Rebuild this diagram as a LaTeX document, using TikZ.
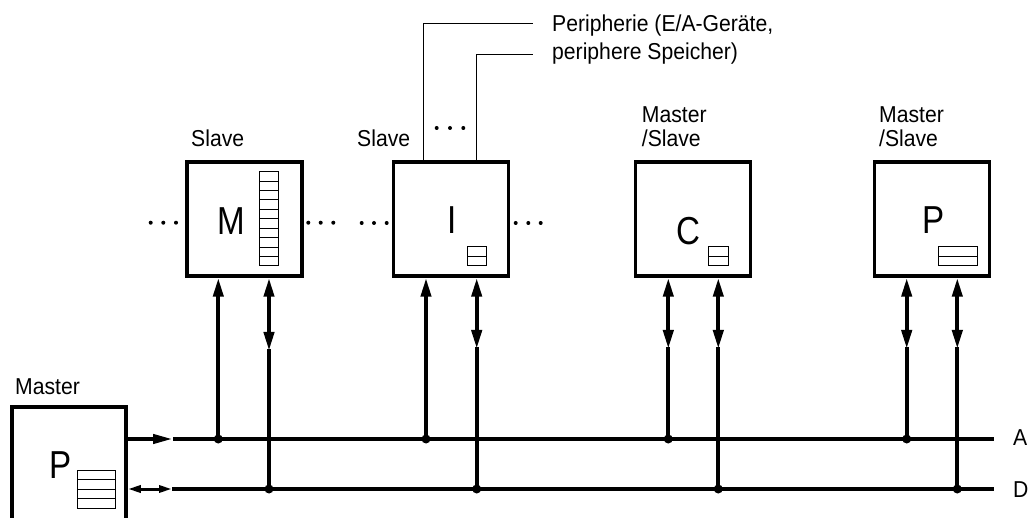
\documentclass[tikz,border=0pt]{standalone}
\usepackage{fontspec}
\setmainfont{Liberation Sans}[FakeStretch=0.92]
\newfontfamily\bigf{Liberation Sans}[FakeStretch=0.85]
\usetikzlibrary{arrows.meta}
\begin{document}
\begin{tikzpicture}[x=1pt,y=-1pt,
  unit/.style={draw,line width=3.5pt,minimum width=115pt,minimum height=114pt,inner sep=0pt},
  lbl/.style={font=\fontsize{23}{28}\selectfont,anchor=base west,inner sep=0pt},
  big/.style={font=\bigf\fontsize{39}{42}\selectfont,anchor=base,inner sep=0pt},
  bus/.style={line width=4pt},
  conn/.style={line width=4pt},
  tipone/.style={-{Triangle[length=19pt,width=10pt]}},
  tiptwo/.style={{Triangle[length=19pt,width=10pt]}-{Triangle[length=19pt,width=10pt]}},
  reg/.style={line width=1pt},
  per/.style={line width=1pt},
  dot/.style={circle,fill,inner sep=0pt,minimum size=9pt},
]
\useasboundingbox (0,0) rectangle (1028,518);

% units
\node[unit] (M) at (244.5,219) {};
\node[unit] (I) at (451,219) {};
\node[unit] (C) at (693,219) {};
\node[unit] (P) at (932,219) {};
\node[unit,minimum width=114pt,minimum height=124pt] (Mst) at (69,469) {};

% big letters
\node[big] (tM) at (231.7,235) {M};
\node[big] (tI) at (452,233.3) {I};
\node[big] (tC) at (688.3,245) {C};
\node[big] (tP) at (934,233.3) {P};
\node[big] (tMst) at (60.7,478.3) {P};

% labels
\node[lbl] (lM) at (191,147) {Slave};
\node[lbl] (lI) at (357,147) {Slave};
\node[lbl] (lC1) at (641.7,122.7) {Master};
\node[lbl] (lC2) at (641.7,147) {/Slave};
\node[lbl] (lP1) at (879,122.7) {Master};
\node[lbl] (lP2) at (879,147) {/Slave};
\node[lbl] (lMst) at (15,395) {Master};
\node[lbl] (per1) at (552,31.7) {Peripherie (E/A-Geräte,};
\node[lbl] (per2) at (552,59.7) {periphere Speicher)};
\node[lbl,anchor=west] (lA) at (1013,438) {A};
\node[lbl,anchor=west] (lD) at (1013,490) {D};

% registers
\draw[reg] (259,171.7) rectangle (278,266);
\foreach \k in {1,...,9} \draw[reg] (259,171.7+9.43*\k) -- (278,171.7+9.43*\k);
\draw[reg] (467,247) rectangle (486,266); \draw[reg] (467,256.5) -- (486,256.5);
\draw[reg] (708,247) rectangle (728,266); \draw[reg] (708,256.5) -- (728,256.5);
\draw[reg] (938,247) rectangle (977,266); \draw[reg] (938,256.5) -- (977,256.5);
\draw[reg] (77,470) rectangle (115,508);
\foreach \k in {1,2,3} \draw[reg] (77,470+9.5*\k) -- (115,470+9.5*\k);

% dots
\foreach \x in {150.7,163.3,176}  \fill (\x,222.7) circle (2pt);
\foreach \x in {308.3,320.7,333.3} \fill (\x,222.7) circle (2pt);
\foreach \x in {361.7,374,386.7}  \fill (\x,223) circle (2pt);
\foreach \x in {515.7,528.3,540.7} \fill (\x,223) circle (2pt);
\foreach \x in {436.7,450,463.3}  \fill (\x,128) circle (2pt);

% periphery leaders
\coordinate (q1) at (533,23.3);
\coordinate (q2) at (533,54.3);
\draw[per] ([xshift=-27.7pt]I.north) |- (q1);
\draw[per] ([xshift=25.7pt]I.north) |- (q2);

% buses
\coordinate (Aw) at (173,439);
\coordinate (Ae) at (994,439);
\coordinate (Dw) at (172,489);
\coordinate (De) at (994,489);
\draw[bus] (Aw) -- (Ae);
\draw[bus] (Dw) -- (De);
\draw[line width=4pt,-{Triangle[length=20pt,width=9pt]}] (Mst.east |- Aw) -- (Aw);
\draw[line width=3pt,{Triangle[length=13pt,width=7pt]}-{Triangle[length=13pt,width=7pt]}] (Mst.east |- Dw) -- (Dw);

% taps
\coordinate (aM) at (218.3,439); \coordinate (dM) at (269,489);
\coordinate (aI) at (426,439);   \coordinate (dI) at (476.7,489);
\coordinate (aC) at (668.3,439); \coordinate (dC) at (718.3,489);
\coordinate (aP) at (906.7,439); \coordinate (dP) at (957.3,489);
\coordinate (sM) at (269,351);
\coordinate (sI) at (476.7,349);
\coordinate (sC1) at (668.3,349); \coordinate (sC2) at (718.3,349);
\coordinate (sP1) at (906.7,349); \coordinate (sP2) at (957.3,349);

\draw[conn,tipone] (aM) -- (aM |- M.south);
\draw[conn,tiptwo] (sM |- M.south) -- (sM);
\draw[conn] ([yshift=2pt]sM) -- (dM);

\draw[conn,tipone] (aI) -- (aI |- I.south);
\draw[conn,tiptwo] (sI |- I.south) -- (sI);
\draw[conn] ([yshift=2pt]sI) -- (dI);

\draw[conn,tiptwo] (sC1 |- C.south) -- (sC1);
\draw[conn] ([yshift=2pt]sC1) -- (aC);
\draw[conn,tiptwo] (sC2 |- C.south) -- (sC2);
\draw[conn] ([yshift=2pt]sC2) -- (dC);

\draw[conn,tiptwo] (sP1 |- P.south) -- (sP1);
\draw[conn] ([yshift=2pt]sP1) -- (aP);
\draw[conn,tiptwo] (sP2 |- P.south) -- (sP2);
\draw[conn] ([yshift=2pt]sP2) -- (dP);

\foreach \c in {aM,dM,aI,dI,aC,dC,aP,dP} \node[dot] at (\c) {};
\end{tikzpicture}
\end{document}
